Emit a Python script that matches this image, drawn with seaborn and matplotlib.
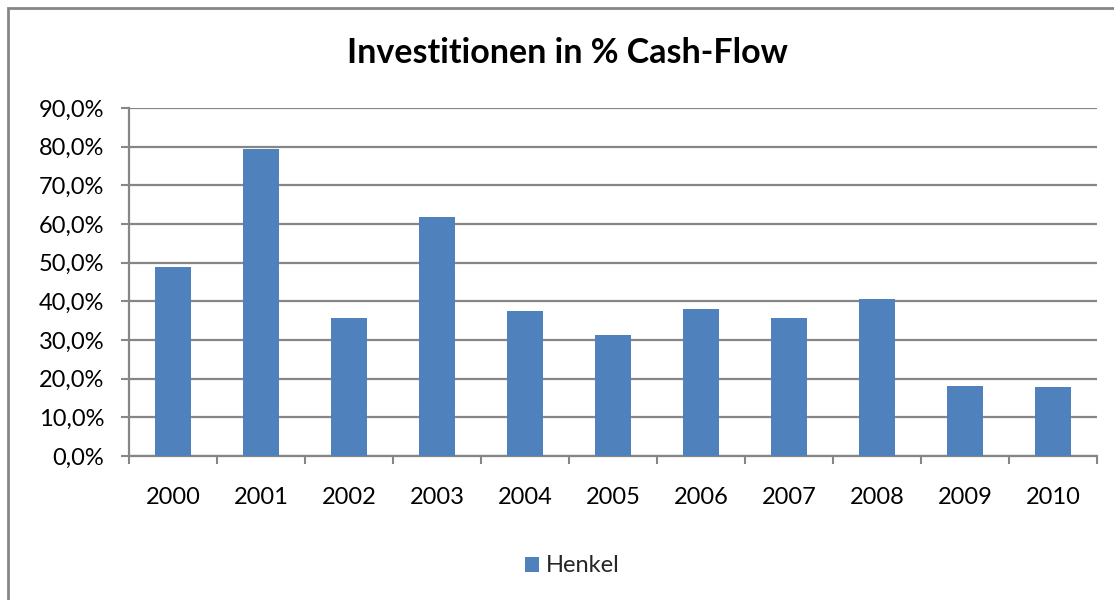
import matplotlib
matplotlib.use("Agg")
import matplotlib.pyplot as plt
import seaborn as sns
import pandas as pd
import numpy as np
from matplotlib.ticker import FuncFormatter, FixedLocator
from matplotlib.patches import Rectangle, Patch

years = ["2000", "2001", "2002", "2003", "2004", "2005", "2006", "2007", "2008", "2009", "2010"]
henkel = [48.9, 79.3, 35.6, 61.7, 37.4, 31.2, 38.1, 35.6, 40.5, 18.0, 17.8]
series_name = "Henkel"
title = "Investitionen in % Cash-Flow"

sns.set_theme(style="white")
plt.rcParams['font.family'] = ['Lato', 'DejaVu Sans']

df = pd.DataFrame({"Jahr": years, "Wert": henkel})

fig = plt.figure(figsize=(11.14, 6.0), dpi=100)
ax = fig.add_axes([129/1114, 1 - 456/600, (1097-129)/1114, (456-108)/600])

bar_color = "#4F81BD"
sns.barplot(data=df, x="Jahr", y="Wert", color=bar_color, width=0.4, ax=ax,
            saturation=1, edgecolor="none", zorder=3)

ax.set_ylim(0, 90)
ax.set_xlim(-0.5, len(years) - 0.5)
ax.yaxis.set_major_locator(FixedLocator(np.arange(0, 91, 10)))
ax.yaxis.set_major_formatter(FuncFormatter(lambda v, p: f"{v:.1f}".replace(".", ",") + "%"))
ax.grid(axis="y", color="#868686", linewidth=1.6, zorder=0)
ax.set_axisbelow(True)
ax.set_xlabel("")
ax.set_ylabel("")

for s in ["top", "right"]:
    ax.spines[s].set_visible(False)
for s in ["left", "bottom"]:
    ax.spines[s].set_color("#868686")
    ax.spines[s].set_linewidth(1.6)

ax.tick_params(axis="y", which="major", length=5.8, width=1.5, color="#868686",
               direction="out", labelsize=17, pad=12, left=True)
ax.tick_params(axis="x", which="major", length=0, labelsize=17, pad=22)
ax.xaxis.set_minor_locator(FixedLocator(np.arange(-0.5, len(years), 1.0)))
ax.tick_params(axis="x", which="minor", length=5.8, width=1.5, color="#868686",
               direction="out", bottom=True)
for lbl in ax.get_xticklabels() + ax.get_yticklabels():
    lbl.set_color("black")

fig.text(567/1114, 1 - 53/600, title, ha="center", va="center",
         fontsize=24.5, fontweight="bold", color="black")

handle = Patch(facecolor=bar_color, edgecolor="none", label=series_name)
fig.legend(handles=[handle], loc="center", bbox_to_anchor=(572/1114, 1 - 566/600),
           frameon=False, fontsize=17, handlelength=0.6, handleheight=0.6,
           handletextpad=0.3)

fig.patches.append(Rectangle((8/1114, -0.05), 1.2, 1 - 8/600 + 0.05,
                             transform=fig.transFigure, fill=False,
                             edgecolor="#868686", linewidth=2))

fig.savefig("out.png", dpi=100, facecolor="white")
